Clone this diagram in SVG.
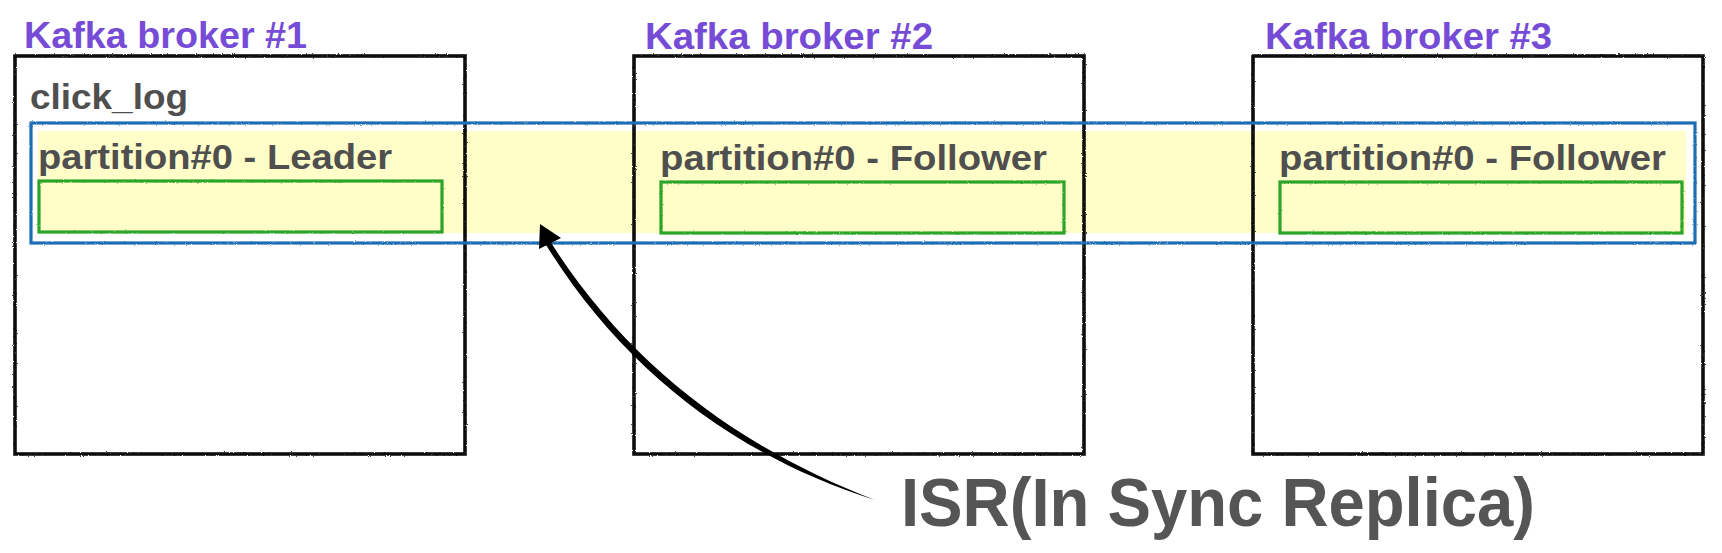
<svg xmlns="http://www.w3.org/2000/svg" width="1722" height="553" viewBox="0 0 1722 553">
  <style>
    .label { font-family: "Liberation Sans", Arial, sans-serif; font-weight: bold; font-size: 36px; fill: #764CD6; }
    .txt { font-family: "Liberation Sans", Arial, sans-serif; font-weight: bold; font-size: 34.5px; fill: #4F4F4F; }
    .big { font-family: "Liberation Sans", Arial, sans-serif; font-weight: bold; font-size: 68px; fill: #555555; }
    .broker { fill: none; stroke: #111111; stroke-width: 3.6; }
    .isr { fill: none; stroke: #1E6EB4; stroke-width: 3.2; }
    .replica { fill: #FFFDC8; stroke: #2BA52B; stroke-width: 3.2; }
  </style>
  <defs>
    <filter id="rough" x="-2%" y="-2%" width="104%" height="104%">
      <feTurbulence type="fractalNoise" baseFrequency="0.9" numOctaves="2" seed="3" result="n"/>
      <feDisplacementMap in="SourceGraphic" in2="n" scale="2" xChannelSelector="R" yChannelSelector="G"/>
    </filter>
  </defs>
  <rect width="1722" height="553" fill="#FFFFFF"/>

  <g id="isr-band-fill">
    <rect x="38" y="131" width="1648" height="102" fill="#FFFDC8"/>
  </g>

  <g id="broker1">
    <rect class="broker" x="15" y="56" width="450" height="398" filter="url(#rough)"/>
    <text class="label" x="24" y="48" textLength="283" lengthAdjust="spacingAndGlyphs">Kafka broker #1</text>
    <text class="txt" x="30" y="109" textLength="158" lengthAdjust="spacingAndGlyphs">click_log</text>
  </g>
  <g id="broker2">
    <rect class="broker" x="634" y="56" width="450" height="398" filter="url(#rough)"/>
    <text class="label" x="645" y="49" textLength="288" lengthAdjust="spacingAndGlyphs">Kafka broker #2</text>
  </g>
  <g id="broker3">
    <rect class="broker" x="1253" y="56" width="450" height="398" filter="url(#rough)"/>
    <text class="label" x="1265" y="49" textLength="287" lengthAdjust="spacingAndGlyphs">Kafka broker #3</text>
  </g>

  <g id="isr">
    <rect class="isr" x="31" y="123" width="1664" height="120" filter="url(#rough)"/>
  </g>

  <g id="partition-leader">
    <text class="txt" x="38" y="169" textLength="354" lengthAdjust="spacingAndGlyphs">partition#0 - Leader</text>
    <rect class="replica" x="39" y="181" width="403" height="51" filter="url(#rough)"/>
  </g>
  <g id="partition-follower2">
    <text class="txt" x="660" y="170" textLength="387" lengthAdjust="spacingAndGlyphs">partition#0 - Follower</text>
    <rect class="replica" x="661" y="182" width="403" height="51" filter="url(#rough)"/>
  </g>
  <g id="partition-follower3">
    <text class="txt" x="1279" y="170" textLength="387" lengthAdjust="spacingAndGlyphs">partition#0 - Follower</text>
    <rect class="replica" x="1280" y="182" width="402" height="51" filter="url(#rough)"/>
  </g>

  <g id="connectors">
    <path d="M 550.3,241.6 C 626.8,362.3 734.5,445.5 875,500 C 731.5,454.5 621.2,366.3 545.7,244.4 Z" fill="#000000"/>
    <polygon points="540,224 539,249 561,238" fill="#000000"/>
  </g>

  <g id="isr-label">
    <text class="big" x="901" y="526" textLength="634" lengthAdjust="spacingAndGlyphs">ISR(In Sync Replica)</text>
  </g>
</svg>
